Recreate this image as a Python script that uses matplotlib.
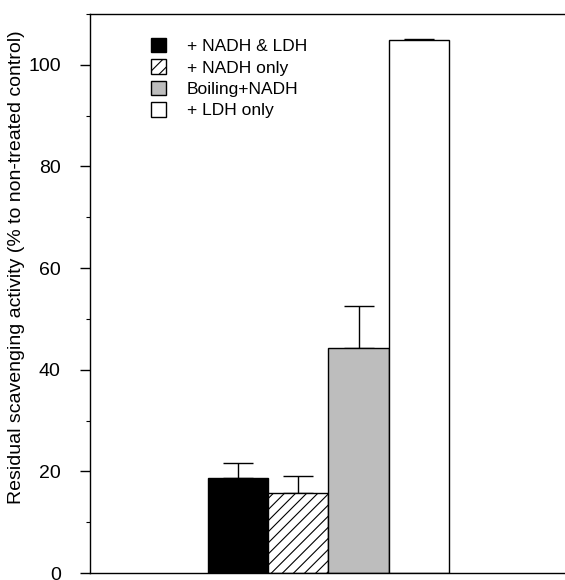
import matplotlib
matplotlib.use("Agg")
import matplotlib.pyplot as plt
from matplotlib.ticker import MultipleLocator
import numpy as np

plt.rcParams['font.family'] = ['Liberation Sans', 'DejaVu Sans']
plt.rcParams['hatch.linewidth'] = 0.8

labels = ["+ NADH & LDH", "+ NADH only", "Boiling+NADH", "+ LDH only"]
values = [18.7, 15.8, 44.3, 104.8]
errors = [3.0, 3.2, 8.2, 0.3]

facecolors = ["black", "white", "#bdbdbd", "white"]
hatches = [None, "///", None, None]

fig = plt.figure(figsize=(5.65, 5.8), dpi=100)
ax = fig.add_axes([0.159, 0.012, 0.841, 0.964])

x = np.arange(len(values))
for i in range(len(values)):
    ax.bar(x[i], values[i], width=1.0, color=facecolors[i], edgecolor="black",
           linewidth=1.0, hatch=hatches[i], label=labels[i], zorder=2)
    ax.errorbar(x[i], values[i], yerr=[[0], [errors[i]]], color="black",
                capsize=11, elinewidth=1.0, capthick=1.0, zorder=1)

ax.set_xlim(-2.45, 5.42)
ax.set_ylim(0, 110)
ax.set_xticks([])
ax.yaxis.set_major_locator(MultipleLocator(20))
ax.yaxis.set_minor_locator(MultipleLocator(10))
ax.tick_params(axis="y", which="major", length=7, width=1.0, labelsize=14, pad=14)
ax.tick_params(axis="y", which="minor", length=3, width=0.8)
ax.spines["right"].set_visible(False)
for s in ["left", "top", "bottom"]:
    ax.spines[s].set_linewidth(1.0)

ax.set_ylabel("Residual scavenging activity (% to non-treated control)",
              fontsize=14)
ax.yaxis.set_label_coords(-0.137, 0.547)

ax.legend(loc="upper left", bbox_to_anchor=(0.095, 0.985), frameon=False,
          fontsize=12.5, handlelength=0.9, handleheight=0.9, handletextpad=1.2,
          labelspacing=0.3)

fig.savefig("out.png", dpi=100)
